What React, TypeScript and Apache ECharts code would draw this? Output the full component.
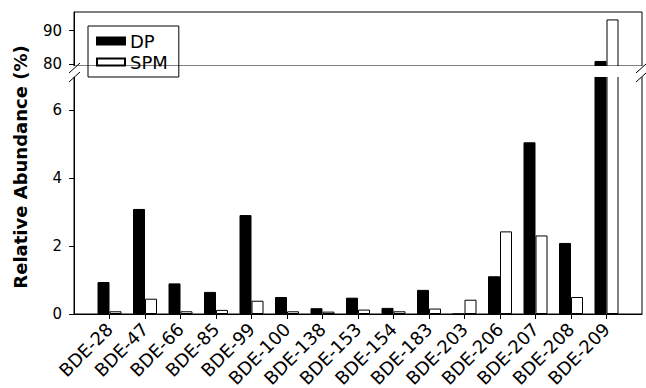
import React, { useEffect, useRef } from "react";
import * as echarts from "echarts";

const categories = [
  "BDE-28", "BDE-47", "BDE-66", "BDE-85", "BDE-99", "BDE-100", "BDE-138", "BDE-153",
  "BDE-154", "BDE-183", "BDE-203", "BDE-206", "BDE-207", "BDE-208", "BDE-209",
];
const dpValues = [0.94, 3.09, 0.9, 0.65, 2.91, 0.5, 0.17, 0.48, 0.18, 0.71, 0, 1.11, 5.05, 2.09, 81];
const spmValues = [0.08, 0.45, 0.08, 0.12, 0.39, 0.08, 0.07, 0.13, 0.08, 0.16, 0.42, 2.43, 2.31, 0.5, 93.3];
const lowerTicks = [0, 2, 4, 6];
const upperTicks = [80, 90];

const FONT = "'DejaVu Sans', Arial, Helvetica, sans-serif";

export default function App() {
  const ref = useRef<HTMLDivElement>(null);
  useEffect(() => {
    if (!ref.current) return;
    const chart = echarts.init(ref.current, null, { renderer: "svg" });
    const axisCats = ["", ...categories, ""];
    const pad = (arr: number[]) => ["-", ...arr, "-"];
    const tickInterval = (_i: number, v: string) => v !== "";
    const yAxisCommon = {
      type: "value",
      axisLine: { show: true, lineStyle: { color: "#000", width: 1 } },
      axisTick: { show: true, length: 5, lineStyle: { color: "#000" } },
      axisLabel: { color: "#000", fontSize: 15, fontFamily: FONT, margin: 12 },
      splitLine: { show: false },
    };
    const barStyle = (fill: string) => ({ color: fill, borderColor: "#000", borderWidth: 1 });
    const gridCommon = {
      left: 74,
      width: 568,
      show: true,
      borderColor: "#000",
      borderWidth: 1,
      backgroundColor: "transparent",
      containLabel: false,
      outerBoundsMode: "none",
    };
    chart.setOption({
      animation: false,
      backgroundColor: "#fff",
      grid: [
        { ...gridCommon, top: 12, height: 54 },
        { ...gridCommon, top: 76, height: 238 },
      ],
      xAxis: [
        { gridIndex: 0, type: "category", data: axisCats, boundaryGap: false, show: false },
        {
          gridIndex: 1,
          type: "category",
          data: axisCats,
          boundaryGap: false,
          axisLine: { show: true, lineStyle: { color: "#000", width: 1 } },
          axisTick: { show: true, length: 5, interval: tickInterval, lineStyle: { color: "#000" } },
          axisLabel: { interval: 0, rotate: 45, color: "#000", fontSize: 18, fontFamily: FONT, margin: 12 },
          splitLine: { show: false },
        },
      ],
      yAxis: [
        {
          ...yAxisCommon,
          gridIndex: 0,
          min: 79.5,
          max: 95.5,
          axisTick: { ...yAxisCommon.axisTick, customValues: upperTicks },
          axisLabel: { ...yAxisCommon.axisLabel, customValues: upperTicks },
        },
        {
          ...yAxisCommon,
          gridIndex: 1,
          min: 0,
          max: 7,
          axisTick: { ...yAxisCommon.axisTick, customValues: lowerTicks },
          axisLabel: { ...yAxisCommon.axisLabel, customValues: lowerTicks },
        },
      ],
      legend: {
        orient: "vertical",
        left: 88,
        top: 26,
        data: ["DP", "SPM"],
        icon: "rect",
        itemWidth: 28,
        itemHeight: 7,
        itemGap: 3,
        padding: [6, 11, 6, 8],
        borderColor: "#000",
        borderWidth: 1,
        selectedMode: false,
        textStyle: { fontSize: 18, color: "#000", fontFamily: FONT },
        z: 10,
      },
      series: [
        { type: "bar", name: "DP", xAxisIndex: 1, yAxisIndex: 1, data: pad(dpValues), barWidth: 12, barGap: "0%", itemStyle: barStyle("#000") },
        { type: "bar", name: "SPM", xAxisIndex: 1, yAxisIndex: 1, data: pad(spmValues), barWidth: 12, barGap: "0%", itemStyle: barStyle("#fff") },
        { type: "bar", name: "DP", xAxisIndex: 0, yAxisIndex: 0, data: pad(dpValues), barWidth: 12, barGap: "0%", itemStyle: barStyle("#000") },
        { type: "bar", name: "SPM", xAxisIndex: 0, yAxisIndex: 0, data: pad(spmValues), barWidth: 12, barGap: "0%", itemStyle: barStyle("#fff") },
      ],
      graphic: [
        { type: "rect", z: 3, shape: { x: 70, y: 66, width: 576, height: 11 }, style: { fill: "#fff" } },
        { type: "line", z: 5, shape: { x1: 69, y1: 73, x2: 80, y2: 63 }, style: { stroke: "#000", lineWidth: 1 } },
        { type: "line", z: 5, shape: { x1: 69, y1: 82, x2: 80, y2: 72 }, style: { stroke: "#000", lineWidth: 1 } },
        { type: "line", z: 5, shape: { x1: 636, y1: 73, x2: 646, y2: 64 }, style: { stroke: "#000", lineWidth: 1 } },
        { type: "line", z: 5, shape: { x1: 636, y1: 82, x2: 646, y2: 73 }, style: { stroke: "#000", lineWidth: 1 } },
        {
          type: "text",
          z: 5,
          x: 20,
          y: 167,
          rotation: Math.PI / 2,
          style: {
            text: "Relative Abundance (%)",
            fontSize: 18,
            fontWeight: "bold",
            fontFamily: FONT,
            fill: "#000",
            align: "center",
            verticalAlign: "middle",
          },
        },
      ],
    });
    return () => chart.dispose();
  }, []);
  return <div ref={ref} style={{ position: "absolute", left: 0, top: 0, width: 646, height: 388 }} />;
}
